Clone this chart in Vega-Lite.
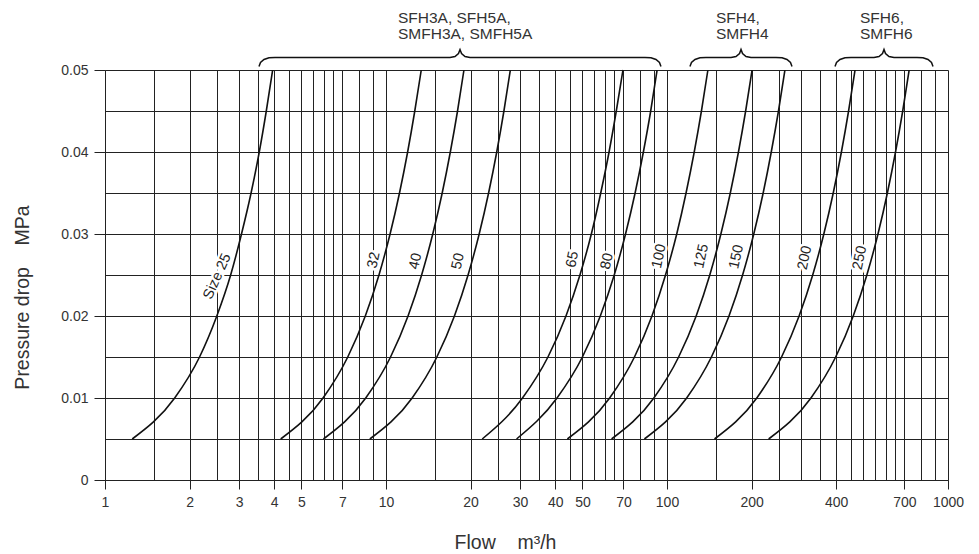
{
  "$schema": "https://vega.github.io/schema/vega-lite/v6.json",
  "width": 843,
  "height": 410,
  "autosize": {"type": "none"},
  "padding": {"left": 105, "top": 70, "right": 31, "bottom": 74},
  "background": "white",
  "config": {
    "view": {"stroke": null},
    "axis": {
      "labelFont": "Liberation Sans",
      "titleFont": "Liberation Sans",
      "titleFontWeight": "normal",
      "labelColor": "#333333",
      "titleColor": "#333333",
      "gridColor": "#222222",
      "gridOpacity": 1,
      "gridWidth": 1,
      "domainColor": "#222222",
      "tickColor": "#222222",
      "labelFontSize": 14,
      "titleFontSize": 19.5
    }
  },
  "datasets": {
    "curves": [
      {"size": "25", "dp": 0.005, "flow": 1.25}, {"size": "25", "dp": 0.01, "flow": 1.77}, {"size": "25", "dp": 0.015, "flow": 2.17}, {"size": "25", "dp": 0.02, "flow": 2.5}, {"size": "25", "dp": 0.025, "flow": 2.8}, {"size": "25", "dp": 0.03, "flow": 3.06}, {"size": "25", "dp": 0.035, "flow": 3.31}, {"size": "25", "dp": 0.04, "flow": 3.54}, {"size": "25", "dp": 0.045, "flow": 3.75}, {"size": "25", "dp": 0.05, "flow": 3.95},
      {"size": "32", "dp": 0.005, "flow": 4.22}, {"size": "32", "dp": 0.01, "flow": 5.97}, {"size": "32", "dp": 0.015, "flow": 7.31}, {"size": "32", "dp": 0.02, "flow": 8.44}, {"size": "32", "dp": 0.025, "flow": 9.44}, {"size": "32", "dp": 0.03, "flow": 10.34}, {"size": "32", "dp": 0.035, "flow": 11.17}, {"size": "32", "dp": 0.04, "flow": 11.94}, {"size": "32", "dp": 0.045, "flow": 12.66}, {"size": "32", "dp": 0.05, "flow": 13.35},
      {"size": "40", "dp": 0.005, "flow": 5.99}, {"size": "40", "dp": 0.01, "flow": 8.47}, {"size": "40", "dp": 0.015, "flow": 10.38}, {"size": "40", "dp": 0.02, "flow": 11.98}, {"size": "40", "dp": 0.025, "flow": 13.39}, {"size": "40", "dp": 0.03, "flow": 14.67}, {"size": "40", "dp": 0.035, "flow": 15.85}, {"size": "40", "dp": 0.04, "flow": 16.94}, {"size": "40", "dp": 0.045, "flow": 17.97}, {"size": "40", "dp": 0.05, "flow": 18.94},
      {"size": "50", "dp": 0.005, "flow": 8.76}, {"size": "50", "dp": 0.01, "flow": 12.39}, {"size": "50", "dp": 0.015, "flow": 15.17}, {"size": "50", "dp": 0.02, "flow": 17.52}, {"size": "50", "dp": 0.025, "flow": 19.59}, {"size": "50", "dp": 0.03, "flow": 21.46}, {"size": "50", "dp": 0.035, "flow": 23.18}, {"size": "50", "dp": 0.04, "flow": 24.78}, {"size": "50", "dp": 0.045, "flow": 26.28}, {"size": "50", "dp": 0.05, "flow": 27.7},
      {"size": "65", "dp": 0.005, "flow": 22.0}, {"size": "65", "dp": 0.01, "flow": 30.6}, {"size": "65", "dp": 0.015, "flow": 37.7}, {"size": "65", "dp": 0.02, "flow": 43.7}, {"size": "65", "dp": 0.025, "flow": 49.0}, {"size": "65", "dp": 0.03, "flow": 53.8}, {"size": "65", "dp": 0.035, "flow": 58.1}, {"size": "65", "dp": 0.04, "flow": 62.2}, {"size": "65", "dp": 0.045, "flow": 66.0}, {"size": "65", "dp": 0.05, "flow": 69.7},
      {"size": "80", "dp": 0.005, "flow": 29.15}, {"size": "80", "dp": 0.01, "flow": 40.6}, {"size": "80", "dp": 0.015, "flow": 50.0}, {"size": "80", "dp": 0.02, "flow": 57.9}, {"size": "80", "dp": 0.025, "flow": 64.9}, {"size": "80", "dp": 0.03, "flow": 71.2}, {"size": "80", "dp": 0.035, "flow": 77.0}, {"size": "80", "dp": 0.04, "flow": 82.4}, {"size": "80", "dp": 0.045, "flow": 87.5}, {"size": "80", "dp": 0.05, "flow": 92.2},
      {"size": "100", "dp": 0.005, "flow": 44.2}, {"size": "100", "dp": 0.01, "flow": 62.5}, {"size": "100", "dp": 0.015, "flow": 76.6}, {"size": "100", "dp": 0.02, "flow": 88.4}, {"size": "100", "dp": 0.025, "flow": 98.8}, {"size": "100", "dp": 0.03, "flow": 108.3}, {"size": "100", "dp": 0.035, "flow": 116.9}, {"size": "100", "dp": 0.04, "flow": 125.0}, {"size": "100", "dp": 0.045, "flow": 132.6}, {"size": "100", "dp": 0.05, "flow": 139.8},
      {"size": "125", "dp": 0.005, "flow": 63.5}, {"size": "125", "dp": 0.01, "flow": 89.8}, {"size": "125", "dp": 0.015, "flow": 110.0}, {"size": "125", "dp": 0.02, "flow": 127.0}, {"size": "125", "dp": 0.025, "flow": 142.0}, {"size": "125", "dp": 0.03, "flow": 155.5}, {"size": "125", "dp": 0.035, "flow": 168.0}, {"size": "125", "dp": 0.04, "flow": 179.6}, {"size": "125", "dp": 0.045, "flow": 190.5}, {"size": "125", "dp": 0.05, "flow": 200.8},
      {"size": "150", "dp": 0.005, "flow": 83.1}, {"size": "150", "dp": 0.01, "flow": 117.5}, {"size": "150", "dp": 0.015, "flow": 143.9}, {"size": "150", "dp": 0.02, "flow": 166.2}, {"size": "150", "dp": 0.025, "flow": 185.8}, {"size": "150", "dp": 0.03, "flow": 203.6}, {"size": "150", "dp": 0.035, "flow": 219.9}, {"size": "150", "dp": 0.04, "flow": 235.0}, {"size": "150", "dp": 0.045, "flow": 249.3}, {"size": "150", "dp": 0.05, "flow": 262.8},
      {"size": "200", "dp": 0.005, "flow": 147.6}, {"size": "200", "dp": 0.01, "flow": 208.7}, {"size": "200", "dp": 0.015, "flow": 255.7}, {"size": "200", "dp": 0.02, "flow": 295.2}, {"size": "200", "dp": 0.025, "flow": 330.0}, {"size": "200", "dp": 0.03, "flow": 361.5}, {"size": "200", "dp": 0.035, "flow": 390.5}, {"size": "200", "dp": 0.04, "flow": 417.5}, {"size": "200", "dp": 0.045, "flow": 442.8}, {"size": "200", "dp": 0.05, "flow": 466.8},
      {"size": "250", "dp": 0.005, "flow": 230.0}, {"size": "250", "dp": 0.01, "flow": 325.3}, {"size": "250", "dp": 0.015, "flow": 398.4}, {"size": "250", "dp": 0.02, "flow": 460.0}, {"size": "250", "dp": 0.025, "flow": 514.3}, {"size": "250", "dp": 0.03, "flow": 563.4}, {"size": "250", "dp": 0.035, "flow": 608.5}, {"size": "250", "dp": 0.04, "flow": 650.5}, {"size": "250", "dp": 0.045, "flow": 690.0}, {"size": "250", "dp": 0.05, "flow": 727.3}
    ],
    "braces": [
      {"brace": 1, "flow": 3.532, "dp": 0.050427}, {"brace": 1, "flow": 3.576, "dp": 0.050915}, {"brace": 1, "flow": 3.68, "dp": 0.05128}, {"brace": 1, "flow": 3.834, "dp": 0.051488}, {"brace": 1, "flow": 4.027, "dp": 0.051524},
      {"brace": 1, "flow": 16.9, "dp": 0.051524}, {"brace": 1, "flow": 17.6, "dp": 0.051646}, {"brace": 1, "flow": 18.11, "dp": 0.052012}, {"brace": 1, "flow": 18.34, "dp": 0.0525}, {"brace": 1, "flow": 18.57, "dp": 0.052012}, {"brace": 1, "flow": 19.11, "dp": 0.051646}, {"brace": 1, "flow": 19.9, "dp": 0.051524},
      {"brace": 1, "flow": 83.49, "dp": 0.051524}, {"brace": 1, "flow": 87.69, "dp": 0.051488}, {"brace": 1, "flow": 91.36, "dp": 0.05128}, {"brace": 1, "flow": 94.02, "dp": 0.050915}, {"brace": 1, "flow": 95.18, "dp": 0.050427},
      {"brace": 2, "flow": 120.7, "dp": 0.050427}, {"brace": 2, "flow": 122.2, "dp": 0.050915}, {"brace": 2, "flow": 125.8, "dp": 0.05128}, {"brace": 2, "flow": 131.0, "dp": 0.051488}, {"brace": 2, "flow": 137.6, "dp": 0.051524},
      {"brace": 2, "flow": 169.0, "dp": 0.051524}, {"brace": 2, "flow": 176.0, "dp": 0.051646}, {"brace": 2, "flow": 181.2, "dp": 0.052012}, {"brace": 2, "flow": 183.4, "dp": 0.0525}, {"brace": 2, "flow": 185.7, "dp": 0.052012}, {"brace": 2, "flow": 191.1, "dp": 0.051646}, {"brace": 2, "flow": 199.0, "dp": 0.051524},
      {"brace": 2, "flow": 244.3, "dp": 0.051524}, {"brace": 2, "flow": 256.7, "dp": 0.051488}, {"brace": 2, "flow": 267.3, "dp": 0.05128}, {"brace": 2, "flow": 275.1, "dp": 0.050915}, {"brace": 2, "flow": 278.5, "dp": 0.050427},
      {"brace": 3, "flow": 396.2, "dp": 0.050427}, {"brace": 3, "flow": 401.1, "dp": 0.050915}, {"brace": 3, "flow": 412.7, "dp": 0.05128}, {"brace": 3, "flow": 430.0, "dp": 0.051488}, {"brace": 3, "flow": 451.6, "dp": 0.051524},
      {"brace": 3, "flow": 545.3, "dp": 0.051524}, {"brace": 3, "flow": 568.1, "dp": 0.051646}, {"brace": 3, "flow": 584.7, "dp": 0.052012}, {"brace": 3, "flow": 591.9, "dp": 0.0525}, {"brace": 3, "flow": 599.2, "dp": 0.052012}, {"brace": 3, "flow": 616.6, "dp": 0.051646}, {"brace": 3, "flow": 642.4, "dp": 0.051524},
      {"brace": 3, "flow": 775.8, "dp": 0.051524}, {"brace": 3, "flow": 814.8, "dp": 0.051488}, {"brace": 3, "flow": 848.9, "dp": 0.05128}, {"brace": 3, "flow": 873.6, "dp": 0.050915}, {"brace": 3, "flow": 884.4, "dp": 0.050427}
    ],
    "curveLabels": [
      {"label": "Size 25", "flow": 2.514, "dp": 0.02482},
      {"label": "32", "flow": 9.064, "dp": 0.0268},
      {"label": "40", "flow": 12.76, "dp": 0.02668},
      {"label": "50", "flow": 18.09, "dp": 0.02668},
      {"label": "65", "flow": 46.17, "dp": 0.02689},
      {"label": "80", "flow": 61.32, "dp": 0.02668},
      {"label": "100", "flow": 93.89, "dp": 0.02729},
      {"label": "125", "flow": 132.9, "dp": 0.02729},
      {"label": "150", "flow": 177.0, "dp": 0.02722},
      {"label": "200", "flow": 309.8, "dp": 0.0271},
      {"label": "250", "flow": 486.3, "dp": 0.0271}
    ],
    "groups": [
      {"label": "SFH3A, SFH5A,\nSMFH3A, SMFH5A", "flow": 11.03, "dp": 0.05576},
      {"label": "SFH4,\nSMFH4", "flow": 149.4, "dp": 0.05576},
      {"label": "SFH6,\nSMFH6", "flow": 486.3, "dp": 0.05576}
    ]
  },
  "encoding": {
    "x": {
      "field": "flow",
      "type": "quantitative",
      "scale": {"type": "log", "domain": [1, 1000], "nice": false},
      "axis": {
        "title": "Flow\u00a0\u00a0\u00a0\u00a0m³/h",
        "values": [1, 1.5, 2, 2.5, 3, 3.5, 4, 4.5, 5, 5.5, 6, 6.5, 7, 8, 9, 10, 15, 20, 25, 30, 35, 40, 45, 50, 55, 60, 65, 70, 80, 90, 100, 150, 200, 250, 300, 350, 400, 450, 500, 550, 600, 650, 700, 800, 900, 1000],
        "grid": true,
        "labelExpr": "indexof([1,2,3,4,5,7,10,20,30,40,50,70,100,200,400,700,1000], datum.value) >= 0 ? '' + datum.value : ''",
        "tickOpacity": {"condition": {"test": "indexof([1,2,3,4,5,7,10,20,30,40,50,70,100,200,400,700,1000], datum.value) >= 0", "value": 1}, "value": 0},
        "tickSize": 9,
        "labelPadding": 6,
        "labelFlush": false,
        "labelOverlap": false,
        "titleX": 400,
        "titleY": 68,
        "titleAlign": "center",
        "titleBaseline": "alphabetic"
      }
    },
    "y": {
      "field": "dp",
      "type": "quantitative",
      "scale": {"domain": [0, 0.05], "nice": false, "zero": false},
      "axis": {
        "title": "Pressure drop\u00a0\u00a0\u00a0\u00a0MPa",
        "values": [0, 0.005, 0.01, 0.015, 0.02, 0.025, 0.03, 0.035, 0.04, 0.045, 0.05],
        "grid": true,
        "labelExpr": "round(datum.value * 1000) % 10 == 0 ? format(datum.value, '.2~f') : ''",
        "tickOpacity": {"condition": {"test": "round(datum.value * 1000) % 10 == 0", "value": 1}, "value": 0},
        "tickSize": 11,
        "labelPadding": 6,
        "labelFlush": false,
        "labelOverlap": false,
        "titleX": -76.7,
        "titleY": 227,
        "titleAngle": 270,
        "titleAlign": "center",
        "titleBaseline": "alphabetic"
      }
    }
  },
  "layer": [
    {
      "data": {"name": "curves"},
      "mark": {"type": "line", "color": "#111111", "strokeWidth": 1.6, "interpolate": "monotone"},
      "encoding": {"detail": {"field": "size"}, "order": {"field": "dp"}}
    },
    {
      "data": {"name": "braces"},
      "mark": {"type": "line", "color": "#111111", "strokeWidth": 1.5, "clip": false},
      "encoding": {"detail": {"field": "brace"}, "order": {"field": "flow"}}
    },
    {
      "data": {"name": "curveLabels"},
      "transform": [{"filter": "indexof(datum.label, 'Size') < 0"}],
      "mark": {"type": "text", "angle": -78, "font": "Liberation Sans", "fontSize": 14.5, "stroke": "white", "strokeWidth": 5, "fill": "white", "align": "center", "baseline": "middle"},
      "encoding": {"text": {"field": "label"}}
    },
    {
      "data": {"name": "curveLabels"},
      "transform": [{"filter": "indexof(datum.label, 'Size') < 0"}],
      "mark": {"type": "text", "angle": -78, "font": "Liberation Sans", "fontSize": 14.5, "fill": "#222222", "align": "center", "baseline": "middle"},
      "encoding": {"text": {"field": "label"}}
    },
    {
      "data": {"name": "curveLabels"},
      "transform": [{"filter": "indexof(datum.label, 'Size') >= 0"}],
      "mark": {"type": "text", "angle": -66, "font": "Liberation Sans", "fontSize": 14.5, "stroke": "white", "strokeWidth": 5, "fill": "white", "align": "center", "baseline": "middle"},
      "encoding": {"text": {"field": "label"}}
    },
    {
      "data": {"name": "curveLabels"},
      "transform": [{"filter": "indexof(datum.label, 'Size') >= 0"}],
      "mark": {"type": "text", "angle": -66, "font": "Liberation Sans", "fontSize": 14.5, "fill": "#222222", "align": "center", "baseline": "middle"},
      "encoding": {"text": {"field": "label"}}
    },
    {
      "data": {"name": "groups"},
      "mark": {"type": "text", "font": "Liberation Sans", "fontSize": 15.5, "fill": "#333333", "align": "left", "baseline": "alphabetic", "lineBreak": "\n", "lineHeight": 16, "clip": false},
      "encoding": {"text": {"field": "label"}}
    }
  ]
}
